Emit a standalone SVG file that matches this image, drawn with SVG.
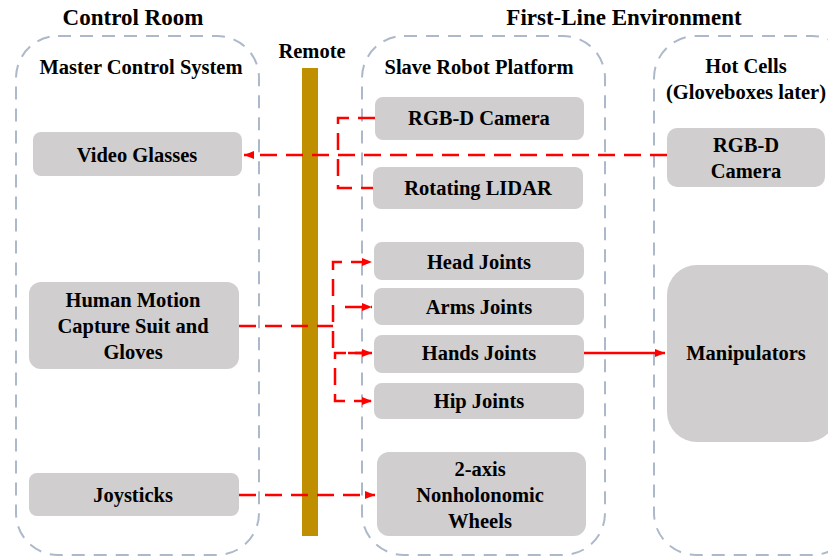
<svg xmlns="http://www.w3.org/2000/svg" width="828" height="556" viewBox="0 0 828 556" font-family="'Liberation Serif', 'Times New Roman', 'DejaVu Serif', serif">
<defs>
<style>
text{font-family:"Liberation Serif","Times New Roman","DejaVu Serif",serif;font-weight:bold;fill:#000;text-anchor:middle}
.t{font-size:23px}
.h{font-size:20.5px}
.n{font-size:20.5px}
.box{fill:#D0CECE}
.cont{fill:none;stroke:#ADB9CA;stroke-width:2;stroke-dasharray:13 9}
.red{fill:none;stroke:#FF0000;stroke-width:2.5;stroke-dasharray:17 9}
.solid{fill:none;stroke:#FF0000;stroke-width:2.5}
</style>
<marker id="ah" markerWidth="10" markerHeight="8" refX="10" refY="4" orient="auto" markerUnits="userSpaceOnUse">
<path d="M0,0 L10,4 L0,8 Z" fill="#FF0000"/>
</marker>
</defs>
<rect width="828" height="556" fill="#fff"/>
<g id="titles">
<text class="t" x="133" y="25">Control Room</text>
<text class="t" x="624" y="25">First-Line Environment</text>
<text class="h" x="312" y="58">Remote</text>
</g>
<g id="containers">
<rect id="master" class="cont" x="16" y="36" width="243" height="519" rx="42"/>
<rect id="slave" class="cont" x="362" y="36" width="243" height="519" rx="42"/>
<rect id="hotcells" class="cont" x="654" y="36" width="200" height="519" rx="42"/>
<text class="h" x="141" y="74">Master Control System</text>
<text class="h" x="479" y="74">Slave Robot Platform</text>
<text class="h" x="746" y="73">Hot Cells</text>
<text class="h" x="746" y="99">(Gloveboxes later)</text>
</g>
<rect id="remote" x="302" y="68" width="16" height="468" fill="#BF8F00"/>
<g id="connectors">
<path class="red" d="M667,155 L244,155" marker-end="url(#ah)"/>
<path class="red" d="M375,118 L338,118 L338,188 L373,188"/>
<path class="red" d="M239,326 L333,326"/>
<path class="red" d="M333,348 L333,262 L372,262" marker-end="url(#ah)"/>
<path class="red" d="M345,307 L372,307" marker-end="url(#ah)"/>
<path class="red" d="M372,353 L335,353 L335,401 L372,401" marker-end="url(#ah)"/>
<path class="red" d="M348,353 L372,353" marker-end="url(#ah)" stroke-dasharray="none"/>
<path class="solid" d="M584,353 L665,353" marker-end="url(#ah)"/>
<path class="red" d="M239,495 L375,495" marker-end="url(#ah)"/>
</g>
<g id="n-video"><rect class="box" x="33" y="132" width="209" height="44" rx="8"/><text class="n" x="137" y="162">Video Glasses</text></g>
<g id="n-human"><rect class="box" x="29" y="282" width="210" height="87" rx="12"/><text class="n" x="133" y="307">Human Motion</text><text class="n" x="133" y="333">Capture Suit and</text><text class="n" x="133" y="359">Gloves</text></g>
<g id="n-joy"><rect class="box" x="29" y="473" width="210" height="43" rx="8"/><text class="n" x="133" y="502">Joysticks</text></g>
<g id="n-rgbd"><rect class="box" x="375" y="97" width="209" height="43" rx="8"/><text class="n" x="479" y="125">RGB-D Camera</text></g>
<g id="n-lidar"><rect class="box" x="373" y="167" width="210" height="42" rx="8"/><text class="n" x="478" y="195">Rotating LIDAR</text></g>
<g id="n-head"><rect class="box" x="374" y="242" width="210" height="38" rx="8"/><text class="n" x="479" y="269">Head Joints</text></g>
<g id="n-arms"><rect class="box" x="374" y="288" width="210" height="37" rx="8"/><text class="n" x="479" y="314">Arms Joints</text></g>
<g id="n-hands"><rect class="box" x="374" y="335" width="210" height="38" rx="8"/><text class="n" x="479" y="360">Hands Joints</text></g>
<g id="n-hip"><rect class="box" x="374" y="383" width="210" height="36" rx="8"/><text class="n" x="479" y="408">Hip Joints</text></g>
<g id="n-wheels"><rect class="box" x="377" y="452" width="209" height="84" rx="12"/><text class="n" x="480" y="476">2-axis</text><text class="n" x="480" y="502">Nonholonomic</text><text class="n" x="480" y="528">Wheels</text></g>
<g id="n-hotcam"><rect class="box" x="667" y="128" width="158" height="59" rx="10"/><text class="n" x="746" y="152">RGB-D</text><text class="n" x="746" y="178">Camera</text></g>
<g id="n-manip"><rect class="box" x="667" y="265" width="170" height="177" rx="30"/><text class="n" x="746" y="360">Manipulators</text></g>
</svg>
